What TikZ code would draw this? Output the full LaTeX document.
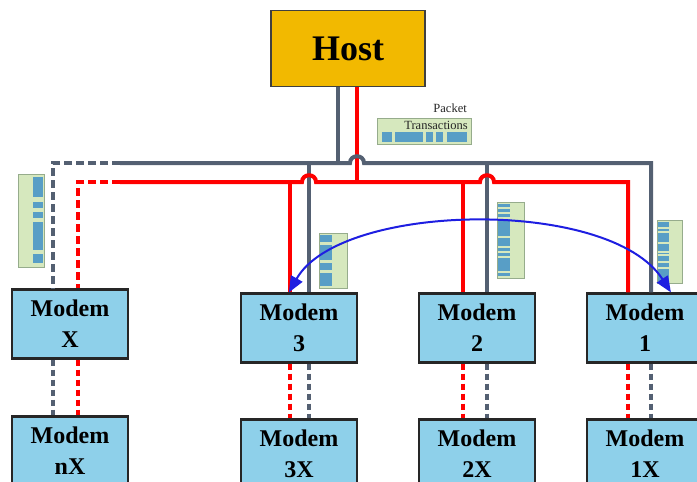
\documentclass[tikz,border=0pt]{standalone}
\usepackage{fontspec}
\setmainfont{Liberation Serif}
\usetikzlibrary{arrows.meta,calc}
\definecolor{busgray}{RGB}{84,96,114}
\definecolor{busred}{RGB}{255,0,0}
\definecolor{hostfill}{RGB}{242,185,0}
\definecolor{modemfill}{RGB}{142,208,234}
\definecolor{pktgreen}{RGB}{214,232,190}
\definecolor{pktedge}{RGB}{150,172,140}
\definecolor{pktblue}{RGB}{88,158,198}
\definecolor{arrowblue}{RGB}{30,30,225}
\begin{document}
\begin{tikzpicture}[x=1pt,y=-1pt,
  modembox/.style={draw=black!85, line width=2.2pt, fill=modemfill,
    minimum width=116pt, minimum height=69pt, inner sep=0pt, align=center,
    font=\fontsize{24}{31}\selectfont\bfseries},
  hostbox/.style={draw=black!75, line width=1.5pt, fill=hostfill,
    minimum width=154pt, minimum height=76pt, inner sep=0pt,
    font=\fontsize{36}{36}\selectfont\bfseries},
  grayline/.style={draw=busgray, line width=4pt},
  redline/.style={draw=busred, line width=4pt},
  busdash/.style={dash pattern=on 8pt off 4pt},
  linkdash/.style={line width=3.5pt, dash pattern=on 6pt off 4pt},
  pktbox/.style={fill=pktgreen, draw=pktedge, line width=1pt},
  pktlabel/.style={inner sep=0pt, anchor=base east, text=black!85,
    font=\fontsize{12.5}{12.5}\selectfont},
  bluearrow/.style={draw=arrowblue, line width=2pt,
    {Triangle[length=16pt,width=13pt]}-{Triangle[length=16pt,width=13pt]}}
]
\useasboundingbox (0,0) rectangle (697,482);

% nodes
\node[hostbox] (host) at (348,48.5) {Host};
\node[modembox] (mX)  at (70,324)  {Modem\\X};
\node[modembox] (mnX) at (70,451)  {Modem\\nX};
\node[modembox] (m3)  at (299,328) {Modem\\3};
\node[modembox] (m3x) at (299,454) {Modem\\3X};
\node[modembox] (m2)  at (477,328) {Modem\\2};
\node[modembox] (m2x) at (477,454) {Modem\\2X};
\node[modembox] (m1)  at (645,328) {Modem\\1};
\node[modembox] (m1x) at (645,454) {Modem\\1X};

% bus coordinates
\coordinate (gH) at (338,163);
\coordinate (gL) at (53,163);
\coordinate (gS) at (120,163);
\coordinate (gR) at (651,163);
\coordinate (g3) at (309,163);
\coordinate (g2) at (487,163);
\coordinate (rH) at (357,182);
\coordinate (rL) at (78,182);
\coordinate (rS) at (120,182);
\coordinate (rR) at (628,182);
\coordinate (r3) at (290,182);
\coordinate (r2) at (463,182);

% red from host (under the gray hop)
\draw[redline] (host.south -| rH) -- (rH);

% gray bus
\draw[grayline] (host.south -| gH) -- (gH);
\draw[grayline] (gS) -- (350,163) .. controls (350,154) and (364,154) .. (364,163)
   -- (gR) -- (m1.north -| gR);
\draw[grayline,busdash] (gS) -- (gL) -- (mX.north -| gL);
\draw[grayline] (g3) -- (m3.north -| g3);
\draw[grayline] (g2) -- (m2.north -| g2);

% red bus
\draw[redline] (rS) -- (302,182) .. controls (302,173) and (316,173) .. (316,182)
   -- (480,182) .. controls (480,173) and (494,173) .. (494,182)
   -- (rR) -- (m1.north -| rR);
\draw[redline,busdash] (rS) -- (rL) -- (mX.north -| rL);
\draw[redline] (r3) -- (m3.north -| r3);
\draw[redline] (r2) -- (m2.north -| r2);

% modem to sub-modem links
\draw[busgray,linkdash] (mX.south -| gL) -- (mnX.north -| gL);
\draw[busred,linkdash]  (mX.south -| rL) -- (mnX.north -| rL);
\draw[busred,linkdash]  (m3.south -| r3) -- (m3x.north -| r3);
\draw[busgray,linkdash] (m3.south -| g3) -- (m3x.north -| g3);
\draw[busred,linkdash]  (m2.south -| r2) -- (m2x.north -| r2);
\draw[busgray,linkdash] (m2.south -| g2) -- (m2x.north -| g2);
\draw[busred,linkdash]  (m1.south -| rR) -- (m1x.north -| rR);
\draw[busgray,linkdash] (m1.south -| gR) -- (m1x.north -| gR);

% packet transactions icon (horizontal)
\draw[pktbox] (377,118) rectangle (471,144);
\fill[pktblue] (382,132) rectangle (392,142);
\fill[pktblue] (395,132) rectangle (423,142);
\fill[pktblue] (426,132) rectangle (433,142);
\fill[pktblue] (436,132) rectangle (443,142);
\fill[pktblue] (447,132) rectangle (467,142);
\node[pktlabel] (pktA) at (467,112) {Packet};
\node[pktlabel] (pktB) at (468,129) {Transactions};

% vertical packet icons
% near modem X
\draw[pktbox] (18,174) rectangle (44,267);
\foreach \a/\b in {177/197,202/208,212/218,222/250,254/263}
  \fill[pktblue] (33,\a) rectangle (43,\b);
% near modem 3
\draw[pktbox] (319,233) rectangle (347,288);
\foreach \a/\b in {235/242,245/260,263/270,273/286}
  \fill[pktblue] (320,\a) rectangle (332,\b);
% near modem 2
\draw[pktbox] (497,202) rectangle (524,278);
\foreach \a/\b in {204/207,209/212,214/217,219/236,238/246,248/251,253/256,258/271,273/276}
  \fill[pktblue] (498,\a) rectangle (510,\b);
% near modem 1
\draw[pktbox] (657,220) rectangle (682,283);
\foreach \a/\b in {222/227,229/231,233/242,244/251,253/254,256/261,263/267,269/281}
  \fill[pktblue] (658,\a) rectangle (669,\b);

% blue transfer arrow between modem 3 and modem 1
\draw[bluearrow] ([xshift=49pt]m3.north west) .. controls (340,202) and (610,197) .. ([xshift=85pt]m1.north west);
\end{tikzpicture}
\end{document}
